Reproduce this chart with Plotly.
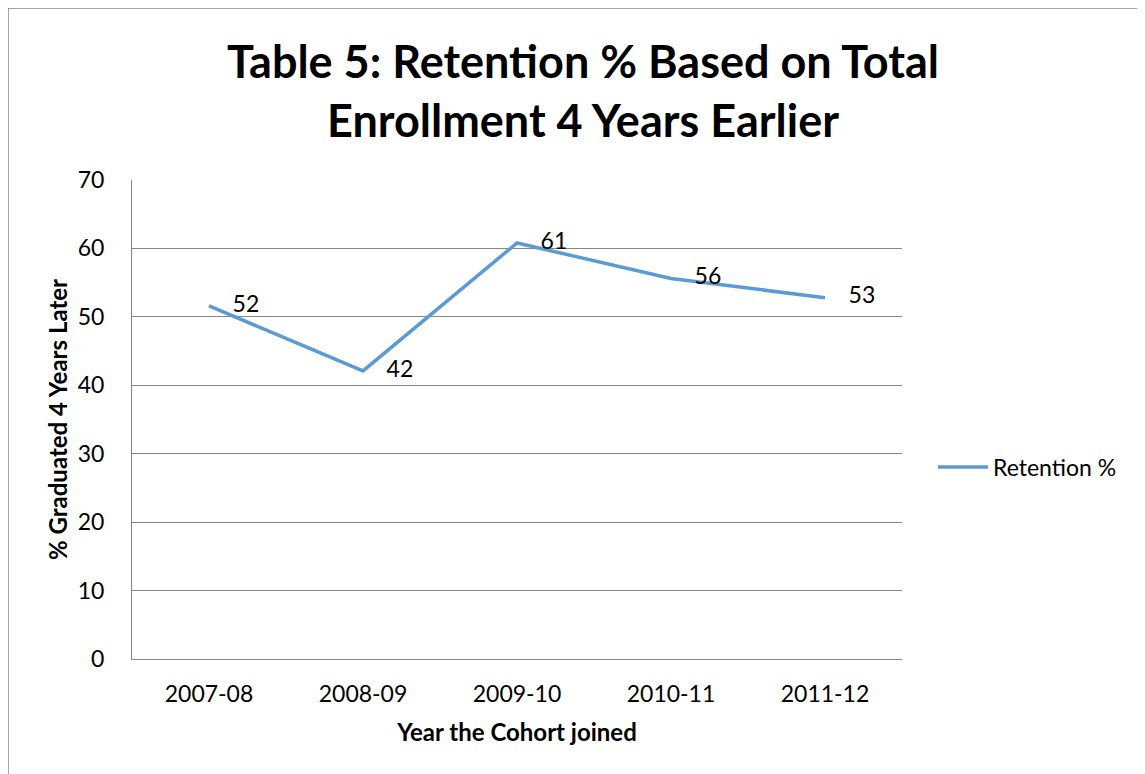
import plotly.graph_objects as go

categories = ["2007-08", "2008-09", "2009-10", "2010-11", "2011-12"]
retention = [51.6, 42.1, 60.8, 55.6, 52.8]
labels = ["52", "42", "61", "56", "53"]

# page offset of the figure (browser body margin)
OFF = 8
W, H = 1145 - OFF, 774 - OFF
L, T = 132 - OFF, 180 - OFF
R = W - (902 - OFF)
B = H - (659 - OFF)
pw, ph = W - L - R, H - T - B

def px(x):
    return (x - OFF - L) / pw

def py(y):
    return (H - B - (y - OFF)) / ph

font = "Lato, 'Open Sans', sans-serif"

fig = go.Figure()
fig.add_trace(go.Scatter(
    x=categories, y=retention, mode="lines+text", name="Retention %",
    text=["    " + t for t in labels], textposition="middle right",
    textfont=dict(size=23, color="#000000", family=font),
    line=dict(color="#5B9BD5", width=3.5), cliponaxis=False,
))

fig.update_layout(
    width=W, height=H,
    margin=dict(l=L, r=R, t=T, b=B),
    paper_bgcolor="white", plot_bgcolor="white",
    font=dict(family=font, color="#000000"),
    title=dict(
        text="<b>Table 5: Retention % Based on Total<br>Enrollment 4 Years Earlier</b>",
        x=(583 - OFF) / W, xanchor="center", y=1 - 70 / H, yanchor="middle",
        font=dict(size=45, family=font, color="#000000"),
    ),
    xaxis=dict(
        type="category", range=[-0.5, len(categories) - 0.5],
        showgrid=False, showline=True, linecolor="#868686", linewidth=1,
        ticks="", tickfont=dict(size=23), ticklabelstandoff=14,
        title=dict(text="<b>Year the Cohort joined</b>", font=dict(size=24), standoff=18),
    ),
    yaxis=dict(
        range=[0, 70], dtick=10, showgrid=True, gridcolor="#868686", gridwidth=1,
        showline=True, linecolor="#868686", linewidth=1, zeroline=False,
        ticks="", tickfont=dict(size=23), ticklabelstandoff=22,
        title=dict(text="<b>% Graduated 4 Years Later</b>", font=dict(size=24), standoff=3),
    ),
    showlegend=True,
    legend=dict(x=px(933), y=py(467), xanchor="left", yanchor="middle",
                font=dict(size=23), bgcolor="rgba(0,0,0,0)", itemwidth=50),
    shapes=[dict(type="rect", xref="paper", yref="paper",
                 x0=px(8), x1=px(1160), y0=py(790), y1=py(8),
                 line=dict(color="#868686", width=1.5), layer="below")],
)

fig.write_html("out.html")
